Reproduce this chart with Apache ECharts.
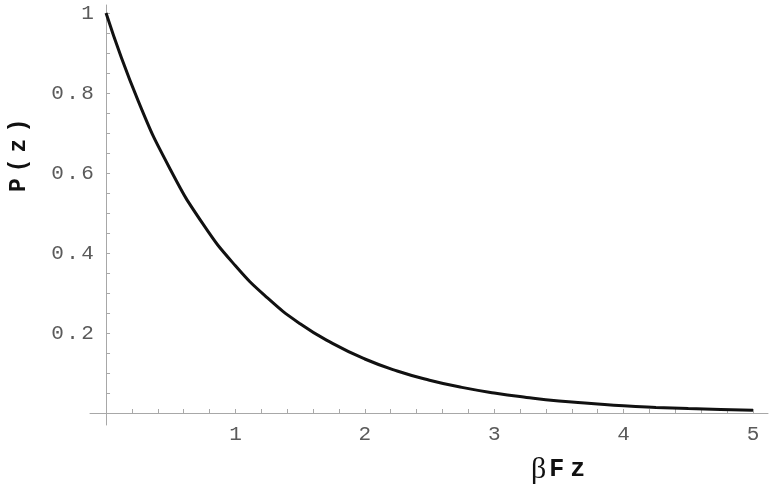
<!DOCTYPE html>
<html>
<head>
<meta charset="utf-8">
<script src="https://cdn.jsdelivr.net/npm/echarts@6/dist/echarts.min.js"></script>
<style>
  html, body { margin: 0; padding: 0; background: #fff; }
  #chart { width: 771px; height: 496px; }
</style>
</head>
<body>
<div id="chart"></div>
<script>
// values
const xValues = [0, 0.25, 0.5, 0.75, 1, 1.25, 1.5, 1.75, 2, 2.25, 2.5, 2.75, 3, 3.25, 3.5, 3.75, 4, 4.25, 4.5, 4.75, 5]
const pValues = [1, 0.779, 0.607, 0.472, 0.368, 0.287, 0.223, 0.174, 0.135, 0.105, 0.082, 0.064, 0.05, 0.039, 0.03, 0.024, 0.018, 0.014, 0.011, 0.009, 0.007]

const xTickLabels = [1, 2, 3, 4, 5]
const yTickLabels = [0.2, 0.4, 0.6, 0.8, 1]
const xMinorTicks = [0.2, 0.4, 0.6, 0.8, 1, 1.2, 1.4, 1.6, 1.8, 2, 2.2, 2.4, 2.6, 2.8, 3, 3.2, 3.4, 3.6, 3.8, 4, 4.2, 4.4, 4.6, 4.8, 5]
const yMinorTicks = [0.05, 0.1, 0.15, 0.2, 0.25, 0.3, 0.35, 0.4, 0.45, 0.5, 0.55, 0.6, 0.65, 0.7, 0.75, 0.8, 0.85, 0.9, 0.95, 1]

const chart = echarts.init(document.getElementById('chart'))

const axisGray = '#a8a8a8'
const mono = 'Liberation Mono'

// spread characters a bit, the original text is letter-spaced
function spaced(s) {
  return String(s).split('').map((c) => `{c|${c}}`).join('')
}

const tickRich = {
  c: { color: '#5a5a5a', fontFamily: mono, fontSize: 21, padding: [0, 1.2, 0, 1.2] },
}

const option = {
  animation: false,
  grid: { left: 90, right: 3, top: 5, bottom: 71 },
  xAxis: {
    type: 'value',
    min: -0.124,
    max: 5.116,
    splitLine: { show: false },
    axisLine: { onZero: true, lineStyle: { color: axisGray, width: 1 } },
    axisTick: { inside: true, length: 4, customValues: xMinorTicks, lineStyle: { color: axisGray } },
    axisLabel: { customValues: xTickLabels, margin: -1, formatter: spaced, rich: tickRich },
  },
  yAxis: {
    type: 'value',
    min: -0.03,
    max: 1.02,
    splitLine: { show: false },
    axisLine: { onZero: true, lineStyle: { color: axisGray, width: 1 } },
    axisTick: { inside: true, length: 4, customValues: yMinorTicks, lineStyle: { color: axisGray } },
    axisLabel: { customValues: yTickLabels, margin: -5, formatter: spaced, rich: tickRich },
  },
  series: [
    {
      type: 'line',
      data: xValues.map((x, i) => [x, pValues[i]]),
      smooth: true,
      showSymbol: false,
      lineStyle: { color: '#111', width: 3 },
    },
  ],
  graphic: [
    {
      type: 'text',
      x: 19,
      y: 195,
      rotation: Math.PI / 2,
      style: {
        text: '{c|P}{c|(}{c|z}{c|)}',
        align: 'left',
        verticalAlign: 'middle',
        rich: {
          c: { fontFamily: mono, fontWeight: 'bold', fontSize: 23, fill: '#111', padding: [0, 3, 0, 3] },
        },
      },
    },
    {
      type: 'text',
      x: 531,
      y: 455,
      style: {
        text: '{b|β}{c|F}{c|z}',
        rich: {
          b: { fontFamily: 'Liberation Serif', fontSize: 30, fill: '#111' },
          c: { fontFamily: mono, fontWeight: 'bold', fontSize: 25, fill: '#111', padding: [0, 3, 0, 3] },
        },
      },
    },
  ],
}

chart.setOption(option)
</script>
</body>
</html>
